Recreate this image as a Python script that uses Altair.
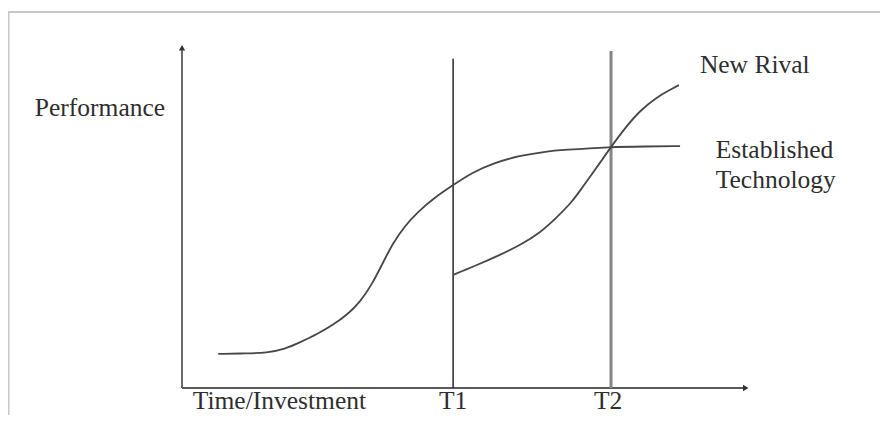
import altair as alt
import pandas as pd

# Curve values (time/investment vs performance)
est_x = [6.4, 11.1, 15.0, 18.2, 20.8, 24.0, 26.7, 29.3, 31.4, 33.6, 35.5, 37.3, 39.4, 41.5, 44.7, 47.9, 51.2, 54.9, 59.7, 64.1, 67.3, 75.7, 81.8, 88.0]
est_y = [9.9, 10.0, 10.2, 11.3, 13.2, 15.7, 18.3, 21.4, 24.8, 30.1, 36.3, 42.1, 47.0, 50.8, 55.3, 58.8, 62.4, 65.1, 67.4, 68.5, 69.0, 69.9, 70.0, 70.1]
riv_x = [47.9, 51.8, 56.2, 59.7, 63.3, 66.3, 68.9, 70.8, 72.6, 74.2, 75.8, 78.3, 80.9, 83.9, 86.2, 87.8]
riv_y = [32.8, 35.4, 38.6, 41.4, 45.0, 49.6, 53.9, 58.3, 62.4, 66.1, 69.9, 75.4, 80.4, 84.3, 86.4, 87.8]

t_names = ["T1", "T2"]
t_x = [47.9, 75.8]
t_top = [95.4, 97.7]

XMIN, XMAX = -30.742, 123.322
YMIN, YMAX = -7.826, 110.145

xs = alt.Scale(domain=[XMIN, XMAX], nice=False, zero=False)
ys = alt.Scale(domain=[YMIN, YMAX], nice=False, zero=False)
FONT = "Liberation Serif"

est = pd.DataFrame({"x": est_x, "y": est_y, "s": "Established Technology"})
riv = pd.DataFrame({"x": riv_x, "y": riv_y, "s": "New Rival"})

def curve(df):
    return alt.Chart(df).mark_line(color="#474747", strokeWidth=1.8, interpolate="basis").encode(
        x=alt.X("x:Q", scale=xs, axis=None), y=alt.Y("y:Q", scale=ys, axis=None), order="x:Q")

# border
border = pd.DataFrame({"x": [XMIN, -30.65], "x2": [XMAX, -30.65], "y": [109.0, YMIN], "y2": [109.0, 109.0]})
border_l = alt.Chart(border).mark_rule(color="#c8c8c8", strokeWidth=2).encode(
    x=alt.X("x:Q", scale=xs, axis=None), x2="x2:Q", y=alt.Y("y:Q", scale=ys, axis=None), y2="y2:Q")

# axes
axes = pd.DataFrame({"x": [0, 0], "x2": [0, 99.5], "y": [0, 0], "y2": [99.0, 0]})
axes_l = alt.Chart(axes).mark_rule(color="#5a5a5a", strokeWidth=1.8).encode(
    x=alt.X("x:Q", scale=xs, axis=None), x2="x2:Q", y=alt.Y("y:Q", scale=ys, axis=None), y2="y2:Q")

arrows = pd.DataFrame({"x": [0, 99.6], "y": [98.6, 0], "shape": ["triangle-up", "triangle-right"]})
arrows_l = alt.Chart(arrows).mark_point(filled=True, color="#333333", size=40, opacity=1).encode(
    x=alt.X("x:Q", scale=xs, axis=None), y=alt.Y("y:Q", scale=ys, axis=None),
    shape=alt.Shape("shape:N", scale=None))

tdf = pd.DataFrame({"name": t_names, "x": t_x, "top": t_top, "y0": [0, 0]})
t1 = alt.Chart(tdf[tdf.name == "T1"]).mark_rule(color="#333333", strokeWidth=1.6).encode(
    x=alt.X("x:Q", scale=xs, axis=None), y=alt.Y("y0:Q", scale=ys, axis=None), y2="top:Q")
t2 = alt.Chart(tdf[tdf.name == "T2"]).mark_rule(color="#858585", strokeWidth=3).encode(
    x=alt.X("x:Q", scale=xs, axis=None), y=alt.Y("y0:Q", scale=ys, axis=None), y2="top:Q")

labels = pd.DataFrame({
    "text": ["Performance", "New Rival", "Established", "Technology", "Time/Investment"],
    "x": [-26.0, 91.5, 94.3, 94.3, 1.9],
    "y": [78.8, 91.3, 66.7, 58.0, -6.0],
})
labels_l = alt.Chart(labels).mark_text(font=FONT, fontSize=25.5, color="#2e2e2e", align="left", baseline="alphabetic").encode(
    x=alt.X("x:Q", scale=xs, axis=None), y=alt.Y("y:Q", scale=ys, axis=None), text="text:N")

tlab = pd.DataFrame({"text": t_names, "x": [47.9, 75.3], "y": [-6.0, -6.0]})
tlab_l = alt.Chart(tlab).mark_text(font=FONT, fontSize=25.5, color="#2e2e2e", align="center", baseline="alphabetic").encode(
    x=alt.X("x:Q", scale=xs, axis=None), y=alt.Y("y:Q", scale=ys, axis=None), text="text:N")

chart = alt.layer(border_l, axes_l, arrows_l, t1, t2, curve(est), curve(riv), labels_l, tlab_l).properties(
    width=872, height=407, padding=0, autosize=alt.AutoSizeParams(type="none"), background="white"
).configure_view(stroke=None)

chart.save("out.html", embed_options={"renderer": "svg", "actions": False})
